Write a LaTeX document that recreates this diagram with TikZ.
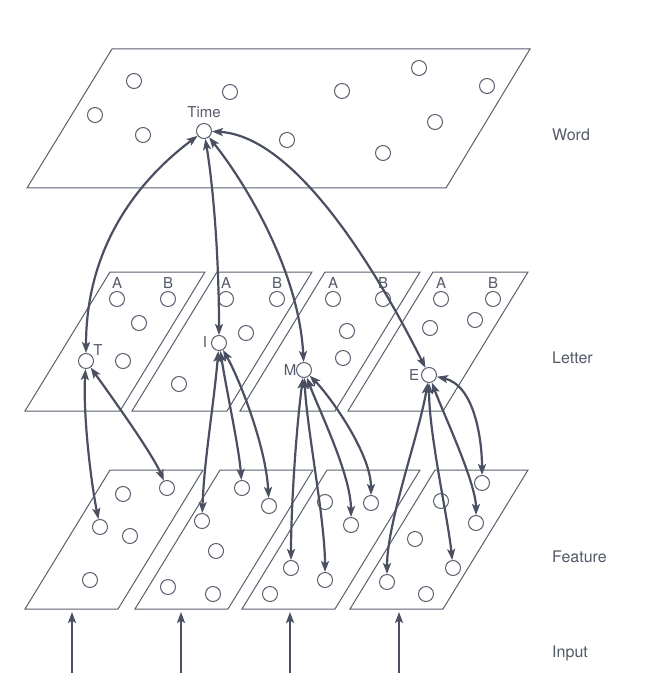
\documentclass[tikz,border=0pt]{standalone}
\usepackage{fontspec}
\setmainfont{TeX Gyre Heros}
\usetikzlibrary{arrows.meta}
\definecolor{linecol}{HTML}{5A6070}
\definecolor{arrcol}{HTML}{4A5062}
\definecolor{txtcol}{HTML}{545A68}
\begin{document}
\begin{tikzpicture}[x=1pt,y=-1pt,
  plane/.style={draw=linecol, line width=1pt, fill=white, line join=miter},
  unit/.style={circle, draw=linecol, line width=1pt, fill=white, minimum size=15pt, inner sep=0pt},
  tipx/.tip={Stealth[length=11pt,width=8pt,inset=2.5pt]},
  conn/.style={draw=arrcol, line width=2.2pt, tipx-tipx},
  inarr/.style={draw=arrcol, line width=2.2pt, -tipx},
  lbl/.style={text=txtcol, font=\fontsize{15}{18}\selectfont, inner sep=0pt},
  layer/.style={text=txtcol, font=\fontsize{16}{19}\selectfont, anchor=west, inner sep=0pt}]
\useasboundingbox (0,0) rectangle (656,700);
\fill[white] (0,0) rectangle (656,700);

% planes
\draw[plane] (112,49) -- (530,49) -- (446,188) -- (27,188) -- cycle;
\foreach \x in {110,217,325,433}
  \draw[plane] (\x,272) -- ++(95,0) -- ++(-85,139) -- ++(-95,0) -- cycle;
\foreach \x in {110,220,327,435}
  \draw[plane] (\x,470) -- ++(93,0) -- ++(-85,139) -- ++(-93,0) -- cycle;

% word units
\node[unit] (w1) at (134,81) {};
\node[unit] (w2) at (230,92) {};
\node[unit] (w3) at (342,91) {};
\node[unit] (w4) at (419,68) {};
\node[unit] (w5) at (487,86) {};
\node[unit] (w6) at (95,115) {};
\node[unit] (w7) at (143,135) {};
\node[unit] (time) at (204,131) {};
\node[unit] (w8) at (287,140) {};
\node[unit] (w9) at (383,153) {};
\node[unit] (w10) at (435,122) {};
\node[lbl] (timelbl) at (204,112) {Time};

% letter units
\node[unit] (l1a) at (117,299) {};
\node[unit] (l1b) at (168,299) {};
\node[unit] (l1c) at (139,323) {};
\node[unit] (T) at (86,361) {};
\node[unit] (l1d) at (123,361) {};
\node[unit] (l2a) at (226,299) {};
\node[unit] (l2b) at (277,299) {};
\node[unit] (l2c) at (246,333) {};
\node[unit] (I) at (219,343) {};
\node[unit] (l2d) at (179,384) {};
\node[unit] (l3a) at (333,299) {};
\node[unit] (l3b) at (383,299) {};
\node[unit] (l3c) at (347,331) {};
\node[unit] (l3d) at (343,358) {};
\node[unit] (M) at (304,370) {};
\node[unit] (l4a) at (441,299) {};
\node[unit] (l4b) at (493,299) {};
\node[unit] (l4c) at (475,320) {};
\node[unit] (l4d) at (430,328) {};
\node[unit] (E) at (429,375) {};
\foreach \p/\x in {1/117,2/226,3/333,4/441}
  \node[lbl] (la\p) at (\x,283) {A};
\foreach \p/\x in {1/168,2/277,3/383,4/493}
  \node[lbl] (lb\p) at (\x,283) {B};
\node[lbl] (Tlbl) at (98,350) {T};
\node[lbl] (Ilbl) at (205,342) {I};
\node[lbl] (Mlbl) at (290,370) {M};
\node[lbl] (Elbl) at (414,375) {E};

% feature units
\node[unit] (f1a) at (167,488) {};
\node[unit] (f1b) at (123,494) {};
\node[unit] (f1c) at (100,527) {};
\node[unit] (f1d) at (130,536) {};
\node[unit] (f1e) at (90,580) {};
\node[unit] (f2a) at (242,488) {};
\node[unit] (f2b) at (269,506) {};
\node[unit] (f2c) at (202,521) {};
\node[unit] (f2d) at (216,551) {};
\node[unit] (f2e) at (168,587) {};
\node[unit] (f2f) at (213,594) {};
\node[unit] (f3a) at (325,502) {};
\node[unit] (f3b) at (371,503) {};
\node[unit] (f3c) at (351,525) {};
\node[unit] (f3d) at (291,568) {};
\node[unit] (f3e) at (325,580) {};
\node[unit] (f3f) at (270,594) {};
\node[unit] (f4a) at (482,483) {};
\node[unit] (f4b) at (441,501) {};
\node[unit] (f4c) at (476,523) {};
\node[unit] (f4d) at (415,539) {};
\node[unit] (f4e) at (453,568) {};
\node[unit] (f4f) at (387,582) {};
\node[unit] (f4g) at (426,594) {};

% word <-> letter
\draw[conn] (time) .. controls +(-60,45) and +(0,-120) .. (T);
\draw[conn] (time) .. controls +(10,60) and +(0,-80) .. (I);
\draw[conn] (time) .. controls +(40,50) and +(-5,-100) .. (M);
\draw[conn] (time) .. controls +(90,5) and +(-55,-110) .. (E);

% letter <-> feature
\draw[conn] (T) .. controls +(-3,50) and +(-10,-50) .. (f1c);
\draw[conn] (T) .. controls +(25,35) and +(-15,-35) .. (f1a);
\draw[conn] (I) .. controls +(-5,60) and +(2,-60) .. (f2c);
\draw[conn] (I) .. controls +(8,50) and +(-3,-40) .. (f2a);
\draw[conn] (I) .. controls +(20,35) and +(-3,-60) .. (f2b);
\draw[conn] (M) .. controls +(-8,60) and +(0,-60) .. (f3d);
\draw[conn] (M) .. controls +(3,60) and +(0,-60) .. (f3e);
\draw[conn] (M) .. controls +(15,40) and +(0,-50) .. (f3c);
\draw[conn] (M) .. controls +(25,25) and +(0,-50) .. (f3b);
\draw[conn] (E) .. controls +(-10,60) and +(0,-60) .. (f4f);
\draw[conn] (E) .. controls +(0,60) and +(-5,-50) .. (f4e);
\draw[conn] (E) .. controls +(15,40) and +(0,-40) .. (f4c);
\draw[conn] (E) .. controls +(45,10) and +(0,-45) .. (f4a);

% inputs
\foreach \i/\x in {1/72,2/181,3/290,4/399}{
  \coordinate (in\i) at (\x,673);
  \coordinate (it\i) at (\x,612);
  \draw[inarr] (in\i) -- (it\i);
}

% layer labels
\node[layer] (word) at (552,135) {Word};
\node[layer] (letter) at (552,358) {Letter};
\node[layer] (feature) at (552,557) {Feature};
\node[layer] (input) at (552,653) {Input};
\end{tikzpicture}
\end{document}
